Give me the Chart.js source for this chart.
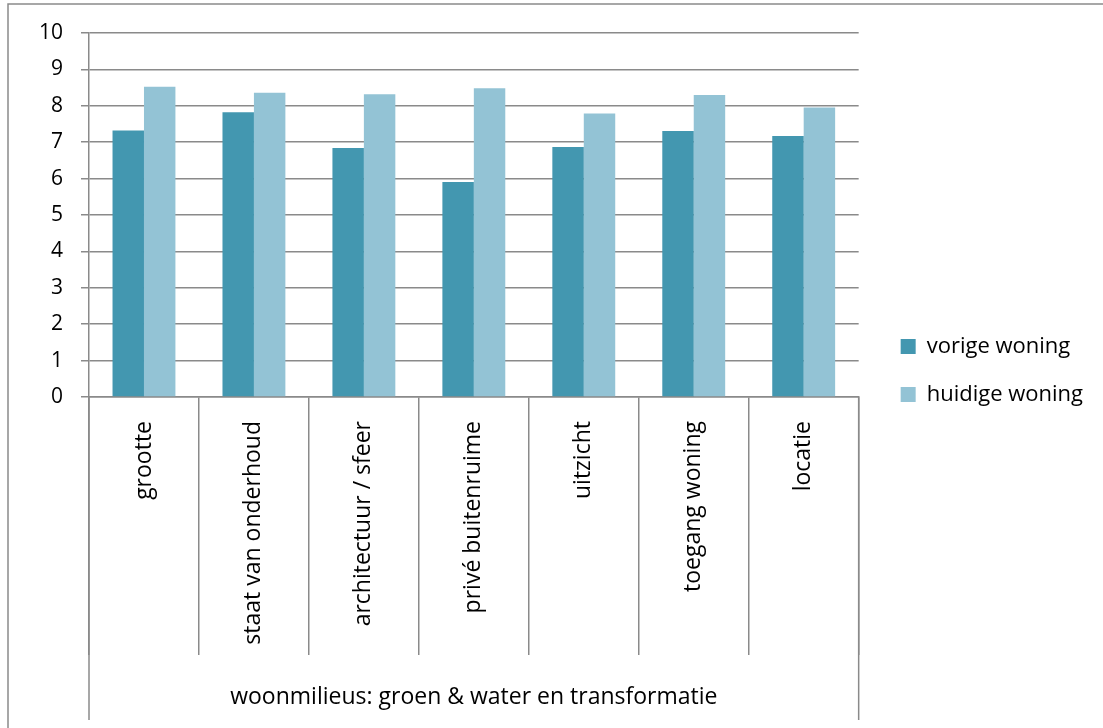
<!DOCTYPE html>
<html>
<head>
<meta charset="utf-8">
<script src="https://cdn.jsdelivr.net/npm/chart.js@4.4.1/dist/chart.umd.min.js"></script>
<style>
  html, body { margin: 0; padding: 0; background: #fff; }
  canvas { display: block; }
</style>
</head>
<body>
<canvas id="chart" width="1103" height="728"></canvas>
<script>
var categories = ['grootte', 'staat van onderhoud', 'architectuur / sfeer', 'privé buitenruime', 'uitzicht', 'toegang woning', 'locatie'];
var vorigeWoning = [7.32, 7.82, 6.84, 5.91, 6.87, 7.31, 7.17];
var huidigeWoning = [8.52, 8.36, 8.32, 8.48, 7.79, 8.30, 7.95];
var seriesNames = ['vorige woning', 'huidige woning'];
var groupLabel = 'woonmilieus: groen & water en transformatie';

var lineGray = '#8a8a8a';
var fontFamily = '"Open Sans", "Liberation Sans", sans-serif';
var tickFont = { family: fontFamily, size: 21 };
var labelFont = { family: fontFamily, size: 23 };
var legendFont = { family: fontFamily, size: 22 };

var separatorLength = 258;  // category separators below the axis
var groupRow = 65;          // extra height of the outer separators

// outer frame, long category separators and the group caption
var groupAxis = {
    id: 'groupAxis',
    afterLayout: function (chart) {
        var legend = chart.legend;
        legend.left += 16;
        legend.right += 16;
        legend.top -= 10;
        legend.bottom -= 10;
    },
    beforeDraw: function (chart) {
        var ctx = chart.ctx;
        ctx.save();
        ctx.strokeStyle = lineGray;
        ctx.lineWidth = 1.5;
        ctx.beginPath();
        ctx.moveTo(8, chart.height);
        ctx.lineTo(8, 4);
        ctx.lineTo(chart.width, 4);
        ctx.stroke();
        ctx.restore();
    },
    afterDraw: function (chart) {
        var ctx = chart.ctx;
        var area = chart.chartArea;
        var xScale = chart.scales.x;
        var bottom = xScale.top + separatorLength + groupRow;
        ctx.save();
        ctx.strokeStyle = lineGray;
        ctx.lineWidth = 1.5;
        [area.left, area.right].forEach(function (px) {
            ctx.beginPath();
            ctx.moveTo(px, area.bottom);
            ctx.lineTo(px, bottom);
            ctx.stroke();
        });
        ctx.fillStyle = '#000';
        ctx.font = labelFont.size + 'px ' + fontFamily;
        ctx.textAlign = 'center';
        ctx.textBaseline = 'middle';
        ctx.fillText(groupLabel, (area.left + area.right) / 2, xScale.top + separatorLength + 42);
        ctx.restore();
    }
};

new Chart(document.getElementById('chart'), {
    type: 'bar',
    data: {
        labels: categories,
        datasets: [{
            label: seriesNames[0],
            data: vorigeWoning,
            backgroundColor: '#4397b0',
            borderWidth: 0
        }, {
            label: seriesNames[1],
            data: huidigeWoning,
            backgroundColor: '#93c3d5',
            borderWidth: 0
        }]
    },
    options: {
        responsive: false,
        animation: false,
        layout: {
            padding: { top: 33, right: 26, bottom: 0, left: 0 }
        },
        datasets: {
            bar: { categoryPercentage: 0.572, barPercentage: 1.0 }
        },
        plugins: {
            tooltip: { enabled: false },
            legend: {
                position: 'right',
                labels: {
                    boxWidth: 15,
                    boxHeight: 15,
                    padding: 26,
                    color: '#000',
                    font: legendFont
                }
            }
        },
        scales: {
            x: {
                grid: {
                    display: true,
                    drawOnChartArea: false,
                    offset: true,
                    tickLength: separatorLength,
                    color: lineGray,
                    lineWidth: 1.5
                },
                border: { display: true, color: lineGray, width: 1.5 },
                ticks: {
                    autoSkip: false,
                    minRotation: 90,
                    maxRotation: 90,
                    padding: -234,
                    color: '#000',
                    font: labelFont
                },
                afterFit: function (scale) { scale.height = 331; }
            },
            y: {
                min: 0,
                max: 10,
                ticks: { stepSize: 1, padding: 18, color: '#000', font: tickFont },
                grid: { color: lineGray, lineWidth: 1.5, tickLength: 8 },
                border: { display: true, color: lineGray, width: 1.5 },
                afterFit: function (scale) { scale.width = 89; }
            }
        }
    },
    plugins: [groupAxis]
});
</script>
</body>
</html>
